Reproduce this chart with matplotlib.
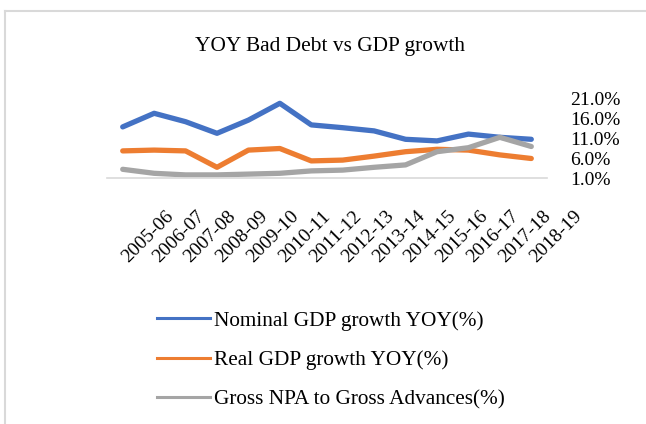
import matplotlib

matplotlib.use("Agg")

import matplotlib.pyplot as plt
import matplotlib.transforms as mtransforms
from matplotlib.lines import Line2D

# Financial years on the category axis
years = ["2005-06", "2006-07", "2007-08", "2008-09", "2009-10", "2010-11",
         "2011-12", "2012-13", "2013-14", "2014-15", "2015-16", "2016-17",
         "2017-18", "2018-19"]

# Year-on-year series, in percent
nominal_gdp = [13.9, 17.3, 15.2, 12.3, 15.6, 19.8, 14.4, 13.7, 12.9, 10.8,
               10.4, 12.1, 11.3, 10.8]
real_gdp = [7.9, 8.1, 7.9, 3.8, 8.1, 8.5, 5.4, 5.6, 6.6, 7.7, 8.3, 8.1,
            6.9, 6.0]
gross_npa = [3.3, 2.3, 1.9, 1.9, 2.1, 2.3, 2.9, 3.1, 3.8, 4.4, 7.7, 8.7,
             11.3, 9.0]

y_ticks = [1, 6, 11, 16, 21]
y_tick_labels = ["1.0%", "6.0%", "11.0%", "16.0%", "21.0%"]

series = [
    ("Nominal GDP growth YOY(%)", nominal_gdp, "#4472C4"),
    ("Real GDP growth YOY(%)", real_gdp, "#ED7D31"),
    ("Gross NPA to Gross Advances(%)", gross_npa, "#A5A5A5"),
]

plt.rcParams["font.family"] = ["Liberation Serif", "DejaVu Serif"]

W, H = 646, 424
fig = plt.figure(figsize=(W / 100, H / 100), dpi=100)
fig.patch.set_facecolor("white")

# chart-area border (light grey, left and top edges visible)
border = "#D9D9D9"
fig.add_artist(Line2D([5 / W, 5 / W], [0, 1 - 11 / H], color=border,
                      lw=1.5, transform=fig.transFigure))
fig.add_artist(Line2D([5 / W, 1], [1 - 11 / H, 1 - 11 / H], color=border,
                      lw=1.5, transform=fig.transFigure))

ax = fig.add_axes([107 / W, 1 - 178.5 / H, 440 / W, 80 / H])
ax.set_facecolor("none")

positions = list(range(len(years)))
handles = []
for label, values, color in series:
    ax.plot(positions, values, color=color, lw=3.8, solid_capstyle="round",
            solid_joinstyle="round", clip_on=False)
    handles.append(Line2D([0], [0], color=color, lw=2.2))

ax.set_xlim(-0.5, len(years) - 0.5)
ax.set_ylim(1, 21)

for side in ("top", "left", "right"):
    ax.spines[side].set_visible(False)
ax.spines["bottom"].set_color(border)
ax.spines["bottom"].set_linewidth(1.2)

ax.yaxis.tick_right()
ax.set_yticks(y_ticks)
ax.set_yticklabels(y_tick_labels, fontsize=14, ha="left")
ax.tick_params(axis="y", length=0, pad=17)

ax.set_xticks(positions)
ax.set_xticklabels(years, rotation=45, rotation_mode="anchor", ha="left",
                   va="baseline", fontsize=14)
ax.tick_params(axis="x", length=0, pad=61)
# nudge the slanted year labels a little to the right
shift = mtransforms.ScaledTranslation(5 / 100, 0, fig.dpi_scale_trans)
for lbl in ax.get_xticklabels():
    lbl.set_transform(lbl.get_transform() + shift)

fig.text(330 / W, 1 - 47 / H, "YOY Bad Debt vs GDP growth", ha="center",
         va="center", fontsize=15.4)

fig.legend(handles, [s[0] for s in series], loc="upper left",
           bbox_to_anchor=(157 / W, 1 - 311 / H), frameon=False,
           fontsize=15.3, handlelength=2.5, handletextpad=0.2,
           labelspacing=0.92, borderpad=0, borderaxespad=0)

fig.savefig("out.png", dpi=100, facecolor="white")
